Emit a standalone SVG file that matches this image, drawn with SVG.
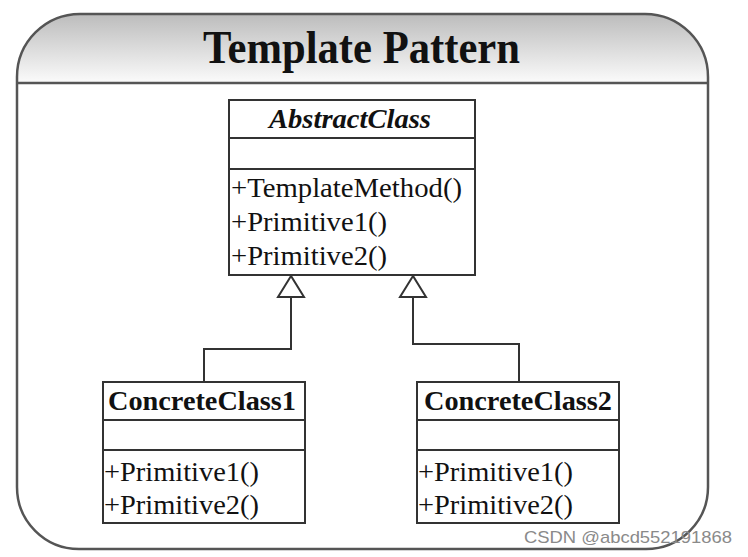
<svg xmlns="http://www.w3.org/2000/svg" width="748" height="557" viewBox="0 0 748 557">
<defs>
<linearGradient id="hdr" x1="0" y1="0" x2="0" y2="1">
<stop offset="0" stop-color="#bcbcbc"/>
<stop offset="1" stop-color="#fbfbfb"/>
</linearGradient>
<style>
.frame{fill:none;stroke:#555;stroke-width:2.5}
.box{fill:#fff;stroke:#333;stroke-width:2}
.sep{stroke:#333;stroke-width:2}
.conn{fill:none;stroke:#333;stroke-width:2}
.tri{fill:#fff;stroke:#333;stroke-width:2;stroke-linejoin:miter}
.t{font-family:"Liberation Serif","Times New Roman",serif;fill:#111}
.title{font-size:46px;font-weight:bold}
.cls{font-size:27px;font-weight:bold}
.m{font-size:28px}
.wm{font-family:"Liberation Sans",Arial,sans-serif;font-size:17px;fill:#8a8a8a}
</style>
</defs>
<rect width="748" height="557" fill="#fff"/>
<g id="frame">
<path d="M17,83 L17,77 A63,63 0 0 1 80,14 L645,14 A63,63 0 0 1 708,77 L708,83 Z" fill="url(#hdr)"/>
<path class="frame" d="M17,77 A63,63 0 0 1 80,14 L645,14 A63,63 0 0 1 708,77 L708,487 A62,62 0 0 1 646,549 L79,549 A62,62 0 0 1 17,487 Z"/>
<line class="frame" x1="17" y1="83" x2="708" y2="83"/>
<text class="t title" x="203" y="63" textLength="317" lengthAdjust="spacingAndGlyphs">Template Pattern</text>
</g>
<g id="connectors">
<polyline class="conn" points="204,382 204,349 291,349 291,297"/>
<polyline class="conn" points="519,382 519,344 413,344 413,297"/>
<polygon class="tri" points="291,276 278,297 304,297"/>
<polygon class="tri" points="413,276 400,297 426,297"/>
</g>
<g id="AbstractClass">
<rect class="box" x="229" y="100" width="246" height="175"/>
<line class="sep" x1="229" y1="138" x2="475" y2="138"/>
<line class="sep" x1="229" y1="169" x2="475" y2="169"/>
<text class="t cls" x="269" y="128" font-style="italic" textLength="162" lengthAdjust="spacingAndGlyphs">AbstractClass</text>
<text class="t m" x="231" y="197" textLength="231" lengthAdjust="spacingAndGlyphs">+TemplateMethod()</text>
<text class="t m" x="231" y="231" textLength="156" lengthAdjust="spacingAndGlyphs">+Primitive1()</text>
<text class="t m" x="231" y="265" textLength="156" lengthAdjust="spacingAndGlyphs">+Primitive2()</text>
</g>
<g id="ConcreteClass1">
<rect class="box" x="103" y="382" width="202" height="141"/>
<line class="sep" x1="103" y1="420" x2="305" y2="420"/>
<line class="sep" x1="103" y1="450" x2="305" y2="450"/>
<text class="t cls" x="108" y="410" textLength="188" lengthAdjust="spacingAndGlyphs">ConcreteClass1</text>
<text class="t m" x="104" y="481" textLength="155" lengthAdjust="spacingAndGlyphs">+Primitive1()</text>
<text class="t m" x="104" y="514" textLength="155" lengthAdjust="spacingAndGlyphs">+Primitive2()</text>
</g>
<g id="ConcreteClass2">
<rect class="box" x="417" y="382" width="202" height="141"/>
<line class="sep" x1="417" y1="420" x2="619" y2="420"/>
<line class="sep" x1="417" y1="450" x2="619" y2="450"/>
<text class="t cls" x="424" y="410" textLength="188" lengthAdjust="spacingAndGlyphs">ConcreteClass2</text>
<text class="t m" x="418" y="481" textLength="155" lengthAdjust="spacingAndGlyphs">+Primitive1()</text>
<text class="t m" x="418" y="514" textLength="155" lengthAdjust="spacingAndGlyphs">+Primitive2()</text>
</g>
<text class="wm" x="524" y="543" textLength="208" lengthAdjust="spacingAndGlyphs">CSDN @abcd552191868</text>
</svg>
